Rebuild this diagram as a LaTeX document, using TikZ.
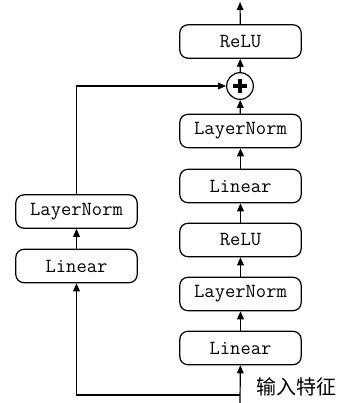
\documentclass[tikz,border=0pt]{standalone}
\usepackage{fontspec}
\newfontfamily\cjk{Noto Sans CJK SC}
\usetikzlibrary{arrows.meta}
\tikzset{
  layer/.style={draw, line width=0.9pt, rounded corners=6pt, minimum width=91pt,
    minimum height=25pt, inner sep=0pt, font=\fontsize{15}{17}\selectfont\ttfamily},
  conn/.style={line width=0.9pt, -{Triangle[length=6pt,width=5pt]}},
  plain/.style={line width=0.9pt}
}
\begin{document}
\begin{tikzpicture}[x=0.75pt,y=-0.75pt]
\useasboundingbox (0,0) rectangle (337,403);
% right branch
\node[layer] (relu2) at (240.5,41.5) {ReLU};
\node[draw, circle, line width=0.9pt, minimum size=20pt, inner sep=0pt] (plus) at (240,86) {};
\draw[line width=3.2pt] (plus.center) ++(-7,0) -- ++(14,0);
\draw[line width=3.2pt] (plus.center) ++(0,-7) -- ++(0,14);
\node[layer] (ln2) at (240.5,131) {LayerNorm};
\node[layer] (lin2) at (240.5,186) {Linear};
\node[layer] (relu1) at (240.5,240) {ReLU};
\node[layer] (ln1) at (240.5,294) {LayerNorm};
\node[layer] (lin1) at (240.5,348) {Linear};
% left branch
\node[layer] (lnL) at (76.5,211.5) {LayerNorm};
\node[layer] (linL) at (76.5,266) {Linear};
% input
\coordinate (out) at (240,2);
\coordinate (in) at (240,403);
\coordinate (split) at (240,395);
\node[anchor=west, font=\fontsize{15}{17}\selectfont\cjk, inner sep=0pt] (label) at (256,387) {输入特征};
% connectors
\draw[conn] (in) -- (lin1);
\draw[conn] (lin1) -- (ln1);
\draw[conn] (ln1) -- (relu1);
\draw[conn] (relu1) -- (lin2);
\draw[conn] (lin2) -- (ln2);
\draw[conn] (ln2) -- (plus);
\draw[conn] (plus) -- (relu2);
\draw[conn] (relu2) -- (out);
\draw[conn] (split) -| (linL);
\draw[conn] (linL) -- (lnL);
\draw[conn] (lnL) |- (plus);
\end{tikzpicture}
\end{document}
